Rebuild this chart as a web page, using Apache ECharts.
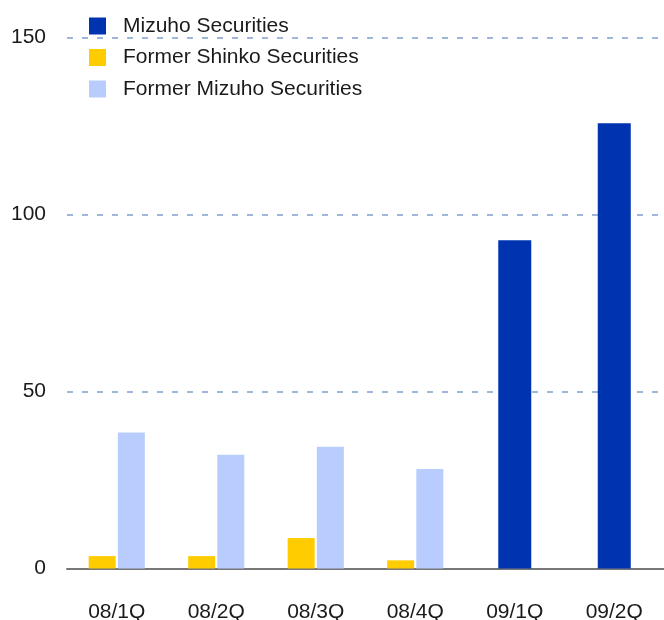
<!DOCTYPE html>
<html>
<head>
<meta charset="utf-8">
<script src="https://cdn.jsdelivr.net/npm/echarts@6/dist/echarts.min.js"></script>
<style>
  html, body { margin: 0; padding: 0; background: #ffffff; }
  #chart { width: 664px; height: 620px; }
</style>
</head>
<body>
<div id="chart"></div>
<script>
  const categories = ['08/1Q', '08/2Q', '08/3Q', '08/4Q', '09/1Q', '09/2Q']
  const mizuho = [null, null, null, null, 92.7, 125.8]
  const formerShinko = [3.5, 3.5, 8.6, 2.3, null, null]
  const formerMizuho = [38.4, 32.1, 34.4, 28.1, null, null]
  const yTicks = [0, 50, 100, 150]

  const font = 'Liberation Sans'
  const chart = echarts.init(document.getElementById('chart'))
  chart.setOption({
    animation: false,
    grid: {
      left: 67,
      right: 0,
      top: 37.5,
      bottom: 51.5,
      outerBoundsMode: 'none'
    },
    legend: {
      orient: 'vertical',
      left: 89,
      top: 14.5,
      padding: 0,
      itemWidth: 17,
      itemHeight: 17,
      itemGap: 8.5,
      icon: 'rect',
      textStyle: {
        fontFamily: font,
        fontSize: 21,
        lineHeight: 17,
        color: '#1a1a1a',
        padding: [0, 0, 6, 12]
      },
      data: ['Mizuho Securities', 'Former Shinko Securities', 'Former Mizuho Securities']
    },
    xAxis: [
      {
        type: 'category',
        data: categories,
        axisLine: { lineStyle: { color: '#777777', width: 2 } },
        axisTick: { show: false },
        axisLabel: {
          fontFamily: font,
          fontSize: 21,
          color: '#1a1a1a',
          margin: 33
        }
      },
      {
        type: 'category',
        data: categories,
        show: false
      }
    ],
    yAxis: {
      type: 'value',
      min: yTicks[0],
      max: yTicks[yTicks.length - 1],
      interval: 50,
      axisLine: { show: false },
      axisTick: { show: false },
      axisLabel: {
        fontFamily: font,
        fontSize: 21,
        color: '#1a1a1a',
        margin: 21,
        padding: [0, 0, 5, 0]
      },
      splitLine: {
        lineStyle: {
          color: '#9db6d9',
          width: 2,
          type: [6, 9]
        }
      }
    },
    series: [
      {
        name: 'Mizuho Securities',
        type: 'bar',
        xAxisIndex: 0,
        barWidth: 33,
        itemStyle: { color: '#0033b0' },
        data: mizuho
      },
      {
        name: 'Former Shinko Securities',
        type: 'bar',
        xAxisIndex: 1,
        barWidth: 27,
        barGap: '8%',
        itemStyle: { color: '#ffcc00' },
        data: formerShinko
      },
      {
        name: 'Former Mizuho Securities',
        type: 'bar',
        xAxisIndex: 1,
        barWidth: 27,
        itemStyle: { color: '#b8cdfd' },
        data: formerMizuho
      }
    ]
  })
</script>
</body>
</html>
